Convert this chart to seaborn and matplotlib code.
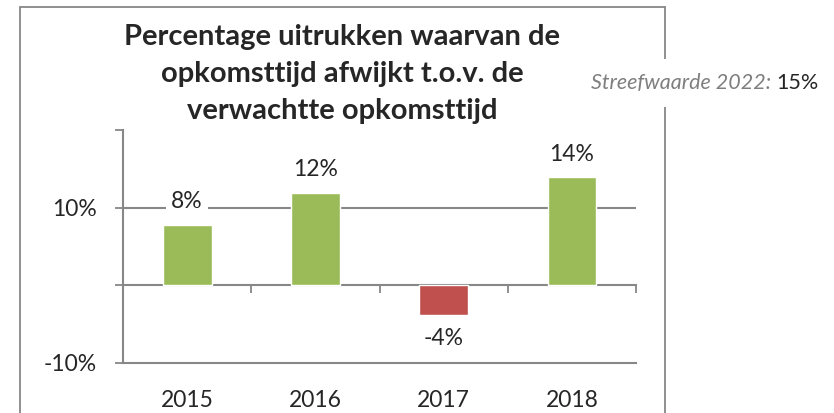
import numpy as np
import pandas as pd
import matplotlib
matplotlib.use("Agg")
import matplotlib.pyplot as plt
from matplotlib.patches import Rectangle
import seaborn as sns

# data
years = ["2015", "2016", "2017", "2018"]
values = [7.8, 11.9, -3.9, 13.9]
labels = ["8%", "12%", "-4%", "14%"]
bar_colors = ["#9BBB59", "#9BBB59", "#C0504D", "#9BBB59"]
title = "Percentage uitrukken waarvan de\nopkomsttijd afwijkt t.o.v. de\nverwachtte opkomsttijd"
target_label = "Streefwaarde 2022:"
target_value = "15%"

sns.set_style("white")
plt.rcParams['font.family'] = ['Lato', 'DejaVu Sans']

grey = "#878787"
df = pd.DataFrame({"jaar": years, "pct": values})

fig = plt.figure(figsize=(8.34, 4.13), dpi=100)
ax = fig.add_axes([0.1475, 0.1218, 0.6151, 0.5634])

# outer chart frame
frame = Rectangle((20/834, -0.1), (665-20)/834, 1.1 - 7/413, transform=fig.transFigure,
                  fill=False, edgecolor=grey, linewidth=1.3, zorder=0)
fig.patches.append(frame)

sns.barplot(data=df, x="jaar", y="pct", hue="jaar", palette=bar_colors,
            width=0.38, legend=False, ax=ax, zorder=3, saturation=1)

ax.set_ylim(-10, 20)
ax.set_xlim(-0.5, 3.5)
ax.axhline(10, color=grey, linewidth=1.5, zorder=1)

ax.set_yticks([-10, 0, 10, 20])
ax.set_yticklabels(["-10%", "", "10%", ""])
ax.tick_params(axis="y", length=6, width=1.3, color=grey, labelsize=16.5, pad=13, left=True)
ax.tick_params(axis="x", length=0, labelsize=16.5, pad=20)
ax.set_xlabel("")
ax.set_ylabel("")

for s in ["top", "right"]:
    ax.spines[s].set_visible(False)
for s in ["left", "bottom"]:
    ax.spines[s].set_color(grey)
    ax.spines[s].set_linewidth(1.5)

# category axis at zero with ticks between categories
sec = ax.secondary_xaxis(1/3)
sec.set_xticks([-0.5, 0.5, 1.5, 2.5, 3.5])
sec.set_xticklabels([])
sec.tick_params(axis="x", direction="out", length=6, width=1.3, color=grey)
sec.spines["bottom"].set_color(grey)
sec.spines["bottom"].set_linewidth(1.5)

# one container per hue level
for i, cont in enumerate(ax.containers):
    ax.bar_label(cont, labels=[labels[i]], padding=9, fontsize=16.5,
                 bbox=dict(facecolor="white", edgecolor="none", pad=4))

fig.text(342/834, 1 - 74/413, title, ha="center", va="center", fontsize=21,
         fontweight="bold", linespacing=1.52)

fig.text(771/834, 1 - 83/413, target_label, ha="right", va="center", fontsize=15.5,
         style="italic", color="#7F7F7F",
         bbox=dict(facecolor="white", edgecolor="none", pad=10))
fig.text(776/834, 1 - 83/413, target_value, ha="left", va="center", fontsize=15.5)

fig.savefig("out.png", dpi=100)
